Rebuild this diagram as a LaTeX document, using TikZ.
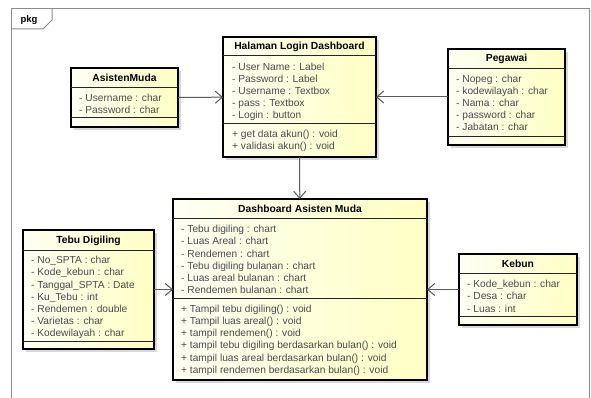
\documentclass[tikz,border=0pt]{standalone}
\usepackage{fontspec}
\setmainfont{Liberation Sans}
\usetikzlibrary{arrows.meta,shadows}
\definecolor{txt}{HTML}{4A4A4A}
\definecolor{frm}{HTML}{8C8C8C}
\definecolor{lnk}{HTML}{5A5A5A}
\definecolor{clsA}{HTML}{FFFFF4}
\definecolor{clsB}{HTML}{FFFFC4}
\tikzset{
  cls/.style={draw=black, line width=1.5pt, rectangle, inner sep=0pt, outer sep=0pt,
    left color=clsA, right color=clsB,
    drop shadow={opacity=0.3, shadow xshift=3pt, shadow yshift=-3pt}},
  ttl/.style={font=\fontsize{10.3}{12}\selectfont\bfseries, inner sep=0pt, text=black},
  attr/.style={anchor=base west, inner sep=0pt, text=txt, font=\fontsize{10.2}{12}\selectfont},
  sepl/.style={draw=black!85, line width=0.8pt},
  assoc/.style={draw=lnk, line width=1pt, -{Straight Barb[length=7pt,width=12pt,line width=1pt]}},
  frame/.style={draw=frm, line width=1pt},
}
\newcommand\umlbox[8]{%
  \node[cls, minimum width={#4-#2}, minimum height={#5-#3}] (#1) at ({(#2+#4)/2},{(#3+#5)/2}) {};
  \node[ttl] (#1T) at ({(#2+#4)/2},{(#3+#7)/2+0.5}) {#6};
  \draw[sepl] (#2,#7) -- (#4,#7);
  \draw[sepl] (#2,#8) -- (#4,#8);
}
\newcommand\umllines[4]{%
  \foreach \t [count=\i] in {#4} {\node[attr] (#1-\i) at (#2,{#3+(\i-1)*12.2+3.7}) {\t};}
}
\begin{document}
\begin{tikzpicture}[x=1pt,y=-1pt]
\useasboundingbox (0,0) rectangle (591,398);
\fill[white] (0,0) rectangle (591,398);
% frame
\draw[frame] (11,402) -- (11,9) -- (589,9) -- (589,402);
\draw[frame] (11,29) -- (43,29) -- (52,20) -- (52,9);
\node[ttl, font=\fontsize{9.5}{11}\selectfont\bfseries] (pkg) at (29,20) {pkg};
% classes
\umlbox{asisten}{71}{68}{178}{127}{AsistenMuda}{87}{117}
\umllines{asistenA}{79}{98}{- Username : char, - Password : char}
\umlbox{login}{223}{37}{376}{157}{Halaman Login Dashboard}{55}{123}
\umllines{loginA}{232}{66.5}{- User Name : Label, - Password : Label, - Username : Textbox, - pass : Textbox, - Login : button}
\umllines{loginO}{232}{134}{+ get data akun() : void, + validasi akun() : void}
\umlbox{pegawai}{448}{49}{565}{145}{Pegawai}{68}{136}
\umllines{pegawaiA}{456}{78.5}{- Nopeg : char, - kodewilayah : char, - Nama : char, - password : char, - Jabatan : char}
\umlbox{dash}{173}{199}{427}{380}{Dashboard Asisten Muda}{218}{298}
\umllines{dashA}{181}{229}{- Tebu digiling : chart, - Luas Areal : chart, - Rendemen : chart, - Tebu digiling bulanan : chart, - Luas areal bulanan : chart, - Rendemen bulanan : chart}
\umllines{dashO}{181}{308.5}{+ Tampil tebu digiling() : void, + Tampil luas areal() : void, + tampil rendemen() : void, + tampil tebu digiling berdasarkan bulan() : void, + tampil luas areal berdasarkan bulan() : void, + tampil rendemen berdasarkan bulan() : void}
\umlbox{tebu}{23}{230}{154}{349}{Tebu Digiling}{250}{341}
\umllines{tebuA}{31}{260}{- No\_SPTA : char, - Kode\_kebun : char, - Tanggal\_SPTA : Date, - Ku\_Tebu : int, - Rendemen : double, - Varietas : char, - Kodewilayah : char}
\umlbox{kebun}{459}{254}{577}{325}{Kebun}{273}{316}
\umllines{kebunA}{467}{284}{- Kode\_kebun : char, - Desa : char, - Luas : int}
% connectors
\draw[assoc] (asisten) -- (login);
\draw[assoc] (pegawai) -- (login);
\draw[assoc] (login) -- (dash);
\draw[assoc] (tebu) -- (dash);
\draw[assoc] (kebun) -- (dash);
\end{tikzpicture}
\end{document}
